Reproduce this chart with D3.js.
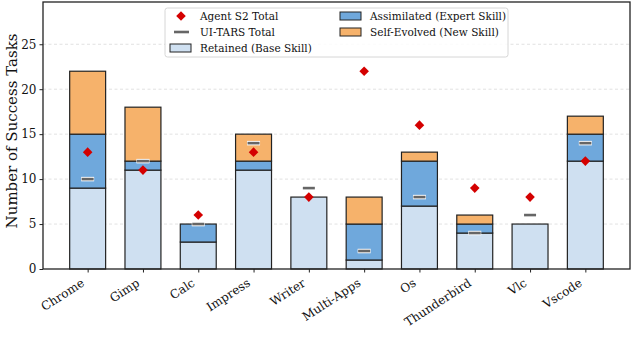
<!DOCTYPE html>
<html>
<head>
<meta charset="utf-8">
<script src="https://cdn.jsdelivr.net/npm/d3@7"></script>
<style>
  body { margin: 0; background: #fff; }
  svg, svg text { font-family: "DejaVu Serif", "Liberation Serif", serif !important; }
  .axis text { font-size: 12px; fill: #111; }
</style>
</head>
<body>
<svg id="chart" width="634" height="337"></svg>
<script>
// --- data ---
const apps      = ["Chrome","Gimp","Calc","Impress","Writer","Multi-Apps","Os","Thunderbird","Vlc","Vscode"];
const retained  = [9, 11, 3, 11, 8, 1, 7, 4, 5, 12];
const assimil   = [6, 1, 2, 1, 0, 4, 5, 1, 0, 3];
const evolved   = [7, 6, 0, 3, 0, 3, 1, 1, 0, 2];
const s2Total   = [13, 11, 6, 13, 8, 22, 16, 9, 8, 12];
const tarsTotal = [10, 12, 5, 14, 9, 2, 8, 4, 6, 14];
const yTicks    = [0, 5, 10, 15, 20, 25];

const COL = { ret: "#cfe0f1", asm: "#6fa8dc", evo: "#f6b26b", s2: "#d40000", tars: "#666" };

const svg = d3.select("#chart");
const M = { l: 43, r: 4, t: 2, b: 68 };
const W = 634, H = 337;
const w = W - M.l - M.r, h = H - M.t - M.b;
const g = svg.append("g").attr("transform", `translate(${M.l},${M.t})`);

const barW = 0.65;
const pad = 0.05 * (apps.length - 1 + barW);
const x = d3.scaleLinear().domain([-barW/2 - pad, apps.length - 1 + barW/2 + pad]).range([0, w]);
const y = d3.scaleLinear().domain([0, 29.7]).range([h, 0]);

// grid
g.append("g").selectAll("line").data(yTicks.filter(v => v > 0)).join("line")
  .attr("x1", 0).attr("x2", w)
  .attr("y1", d => y(d)).attr("y2", d => y(d))
  .attr("stroke", "#d9d9d9").attr("stroke-width", 0.8).attr("stroke-dasharray", "3,2.5");

// stacked bars
const rows = apps.map((a, i) => ({ i, a, segs: [
  { y0: 0, y1: retained[i], c: COL.ret },
  { y0: retained[i], y1: retained[i] + assimil[i], c: COL.asm },
  { y0: retained[i] + assimil[i], y1: retained[i] + assimil[i] + evolved[i], c: COL.evo }
].filter(s => s.y1 > s.y0) }));

const bw = x(barW) - x(0);
g.selectAll("g.bar").data(rows).join("g").attr("class", "bar")
  .selectAll("rect").data(d => d.segs.map(s => ({ ...s, i: d.i }))).join("rect")
  .attr("x", d => x(d.i) - bw/2).attr("width", bw)
  .attr("y", d => y(d.y1)).attr("height", d => y(d.y0) - y(d.y1))
  .attr("fill", d => d.c).attr("stroke", "#222").attr("stroke-width", 1.2);

// UI-TARS dashes
g.selectAll("line.tars").data(tarsTotal).join("line").attr("class", "tars")
  .attr("x1", (d, i) => x(i) - 6.5).attr("x2", (d, i) => x(i) + 6.5)
  .attr("y1", d => y(d)).attr("y2", d => y(d))
  .attr("stroke", "#fff").attr("stroke-width", 4.5);
g.selectAll("line.tars2").data(tarsTotal).join("line").attr("class", "tars2")
  .attr("x1", (d, i) => x(i) - 6).attr("x2", (d, i) => x(i) + 6)
  .attr("y1", d => y(d)).attr("y2", d => y(d))
  .attr("stroke", COL.tars).attr("stroke-width", 2.6);

// Agent S2 diamonds
const diamond = d3.symbol(d3.symbolSquare, 46);
g.selectAll("path.s2").data(s2Total).join("path").attr("class", "s2")
  .attr("d", diamond)
  .attr("transform", (d, i) => `translate(${x(i)},${y(d)}) rotate(45)`)
  .attr("fill", COL.s2);

// axes
const yAxis = g.append("g").attr("class", "axis")
  .call(d3.axisLeft(y).tickValues(yTicks).tickSize(3.5).tickPadding(3));
yAxis.attr("font-family", null).attr("font-size", null);
yAxis.select(".domain").remove();
yAxis.selectAll("line").attr("stroke", "#222");

const xAxis = g.append("g").attr("class", "axis").attr("transform", `translate(0,${h})`)
  .call(d3.axisBottom(x).tickValues(d3.range(apps.length)).tickSize(3.5).tickFormat(i => apps[i]));
xAxis.attr("font-family", null).attr("font-size", null);
xAxis.select(".domain").remove();
xAxis.selectAll("line").attr("stroke", "#222");
xAxis.selectAll("text")
  .attr("text-anchor", "end").attr("dy", 0).attr("y", 0)
  .attr("transform", "translate(-3,16) rotate(-33)")
  .style("font-size", "12px");

// frame
g.append("rect").attr("x", 0).attr("y", 0).attr("width", w).attr("height", h)
  .attr("fill", "none").attr("stroke", "#222").attr("stroke-width", 1.3);

// y label
svg.append("text")
  .attr("transform", `translate(17,131) rotate(-90)`)
  .attr("text-anchor", "middle").style("font-size", "15px").attr("fill", "#111")
  .text("Number of Success Tasks");

// legend
const lg = svg.append("g").attr("transform", "translate(165,8)");
lg.append("rect").attr("width", 343).attr("height", 49).attr("rx", 2.5)
  .attr("fill", "#fff").attr("fill-opacity", 0.85).attr("stroke", "#ccc").attr("stroke-width", 0.8);
const items = [
  { t: "Agent S2 Total", k: "s2", cx: 0, row: 0 },
  { t: "UI-TARS Total", k: "tars", cx: 0, row: 1 },
  { t: "Retained (Base Skill)", k: COL.ret, cx: 0, row: 2 },
  { t: "Assimilated (Expert Skill)", k: COL.asm, cx: 170, row: 0 },
  { t: "Self-Evolved (New Skill)", k: COL.evo, cx: 170, row: 1 }
];
items.forEach(it => {
  const gy = 8 + it.row * 16;
  const gi = lg.append("g").attr("transform", `translate(${it.cx},${gy})`);
  if (it.k === "s2") {
    gi.append("path").attr("d", diamond).attr("transform", "translate(16,0) rotate(45)").attr("fill", COL.s2);
  } else if (it.k === "tars") {
    gi.append("line").attr("x1", 9).attr("x2", 24).attr("stroke", COL.tars).attr("stroke-width", 2.6);
  } else {
    gi.append("rect").attr("x", 5).attr("y", -4).attr("width", 21).attr("height", 8)
      .attr("fill", it.k).attr("stroke", "#222").attr("stroke-width", 1);
  }
  gi.append("text").attr("x", 35).attr("y", 0).attr("dy", "0.35em")
    .style("font-size", "10.5px").attr("fill", "#111").text(it.t);
});
</script>
</body>
</html>
